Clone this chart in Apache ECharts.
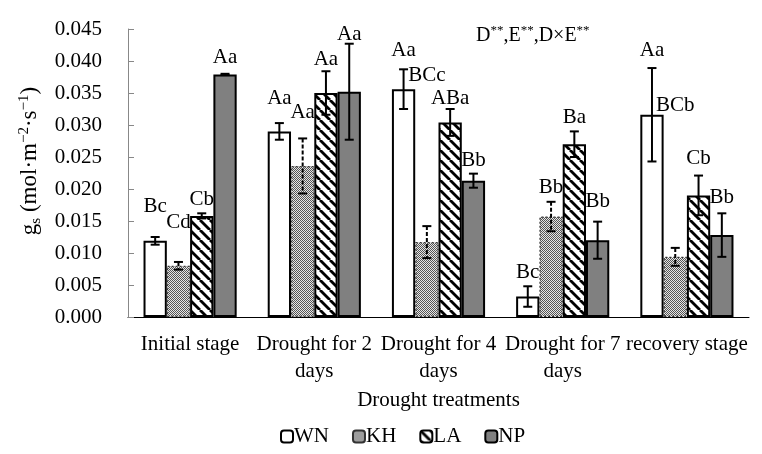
<!DOCTYPE html>
<html lang="en">
<head>
    <meta charset="UTF-8">
    <title>gs</title>
    <script src="https://cdn.jsdelivr.net/npm/echarts@6/dist/echarts.min.js"></script>
    <style>html,body{margin:0;padding:0;background:#fff}</style>
</head>
<body>
<div style="width:762px;height:454px" id="main"></div>
<script>
    var categories = ['Initial stage', 'Drought for 2\ndays', 'Drought for 4\ndays', 'Drought for 7\ndays', 'recovery stage'];
    var names = ['WN', 'KH', 'LA', 'NP'];

    var WN = [0.0119, 0.0290, 0.0356, 0.0032, 0.0316];
    var KH = [0.0080, 0.0236, 0.0117, 0.0157, 0.0094];
    var LA = [0.0158, 0.0350, 0.0304, 0.0270, 0.0190];
    var NP = [0.0379, 0.0352, 0.0213, 0.0120, 0.0128];

    var WNerr = [0.0006, 0.0013, 0.0031, 0.0016, 0.0073];
    var KHerr = [0.0006, 0.0043, 0.0025, 0.0023, 0.0014];
    var LAerr = [0.0004, 0.0034, 0.0021, 0.0020, 0.0031];
    var NPerr = [0.0001, 0.0075, 0.0011, 0.0029, 0.0034];

    // significance letters and the height (in y units) they sit at
    var WNsig = ['Bc', 'Aa', 'Aa', 'Bc', 'Aa'];
    var KHsig = ['Cd', 'Aa', 'BCc', 'Bb', 'BCb'];
    var LAsig = ['Cb', 'Aa', 'ABa', 'Ba', 'Cb'];
    var NPsig = ['Aa', 'Aa', 'Bb', 'Bb', 'Bb'];
    var WNsigAt = [0.0172, 0.0342, 0.0416, 0.0069, 0.0416];
    var KHsigAt = [0.0148, 0.0319, 0.0377, 0.0203, 0.0330];
    var LAsigAt = [0.0184, 0.0403, 0.0341, 0.0312, 0.0248];
    var NPsigAt = [0.0406, 0.0442, 0.0244, 0.0180, 0.0186];

    var values = [WN, KH, LA, NP];
    var errs = [WNerr, KHerr, LAerr, NPerr];
    var sigs = [WNsig, KHsig, LAsig, NPsig];
    var sigAt = [WNsigAt, KHsigAt, LAsigAt, NPsigAt];

    var font = '"Liberation Serif", "Times New Roman", serif';

    // patterns
    function checker() {
        var c = document.createElement('canvas');
        c.width = 2; c.height = 2;
        var ctx = c.getContext('2d');
        ctx.fillStyle = '#e6e6e6';
        ctx.fillRect(0, 0, 2, 2);
        ctx.fillStyle = '#555';
        ctx.fillRect(0, 0, 1, 1);
        ctx.fillRect(1, 1, 1, 1);
        return c;
    }
    function stripes() {
        var p = 10;
        var c = document.createElement('canvas');
        c.width = p; c.height = p;
        var ctx = c.getContext('2d');
        ctx.fillStyle = '#fff';
        ctx.fillRect(0, 0, p, p);
        ctx.strokeStyle = '#000';
        ctx.lineWidth = 2.8;
        for (var k = -1; k <= 1; k++) {
            ctx.beginPath();
            ctx.moveTo(k * p, 0);
            ctx.lineTo(k * p + p, p);
            ctx.stroke();
        }
        return c;
    }

    var styles = [
        {color: '#fff', borderColor: '#000', borderWidth: 2},
        {color: {image: checker(), repeat: 'repeat'}, borderColor: '#333', borderWidth: 1.2, borderType: [2, 2]},
        {color: {image: stripes(), repeat: 'repeat'}, borderColor: '#000', borderWidth: 2},
        {color: '#808080', borderColor: '#000', borderWidth: 2}
    ];

    var myChart = echarts.init(document.getElementById('main'));

    var series = [];
    for (var s = 0; s < 4; s++) {
        series.push({
            name: names[s],
            type: 'bar',
            data: values[s],
            barGap: '0%',
            barCategoryGap: '25%',
            itemStyle: styles[s],
            z: 2
        });
    }

    var errData = [];
    var sigData = [];
    for (var s = 0; s < 4; s++) {
        for (var i = 0; i < categories.length; i++) {
            errData.push([i, values[s][i], errs[s][i], s]);
            sigData.push([i, sigAt[s][i], s, sigs[s][i]]);
        }
    }

    function barX(api, i, s) {
        var band = api.size([1, 0])[0];
        var bw = band * 0.75 / 4;
        var c = api.coord([i, 0]);
        return {x: c[0] + (s - 1.5) * bw, bw: bw};
    }

    series.push({
        type: 'custom',
        z: 5,
        silent: true,
        data: errData,
        renderItem: function (params, api) {
            var i = api.value(0), v = api.value(1), e = api.value(2), s = api.value(3);
            var bx = barX(api, i, s);
            var top = api.coord([i, v + e])[1];
            var bot = api.coord([i, v - e])[1];
            var cap = 4.5;
            var st = {stroke: '#000', lineWidth: 2};
            if (s === 1) st.lineDash = [4, 2];
            return {
                type: 'group',
                children: [
                    {type: 'line', shape: {x1: bx.x, y1: top, x2: bx.x, y2: bot}, style: st},
                    {type: 'line', shape: {x1: bx.x - cap, y1: top, x2: bx.x + cap, y2: top}, style: {stroke: '#000', lineWidth: 2}},
                    {type: 'line', shape: {x1: bx.x - cap, y1: bot, x2: bx.x + cap, y2: bot}, style: {stroke: '#000', lineWidth: 2}}
                ]
            };
        }
    });

    series.push({
        type: 'custom',
        z: 6,
        silent: true,
        clip: false,
        data: sigData,
        renderItem: function (params, api) {
            var i = api.value(0), y = api.value(1), s = api.value(2);
            var txt = sigData[params.dataIndex][3];
            var bx = barX(api, i, s);
            return {
                type: 'text',
                x: bx.x,
                y: api.coord([i, y])[1],
                style: {
                    text: txt,
                    font: '21px ' + font,
                    fill: '#000',
                    align: 'center',
                    verticalAlign: 'middle'
                }
            };
        }
    });

    var option = {
        animation: false,
        backgroundColor: '#fff',
        grid: {left: 128, right: 13, top: 29, bottom: 137},
        legend: {
            data: names,
            left: 275,
            top: 421,
            itemWidth: 12,
            itemHeight: 12,
            itemGap: 23,
            textStyle: {fontFamily: font, fontSize: 21, color: '#000', padding: [0, 0, 0, -4]}
        },
        xAxis: {
            type: 'category',
            data: categories,
            name: 'Drought treatments',
            nameLocation: 'middle',
            nameGap: 71,
            nameTextStyle: {fontFamily: font, fontSize: 21, color: '#000'},
            axisLine: {lineStyle: {color: '#000', width: 1}},
            axisTick: {inside: true, length: 5, lineStyle: {color: '#888'}},
            axisLabel: {fontFamily: font, fontSize: 21, color: '#000', lineHeight: 27, margin: 14, interval: 0}
        },
        yAxis: {
            type: 'value',
            min: 0,
            max: 0.045,
            interval: 0.005,
            splitLine: {show: false},
            axisLine: {show: true, lineStyle: {color: '#888', width: 1}},
            axisTick: {show: true, inside: true, length: 6, lineStyle: {color: '#888'}},
            axisLabel: {
                fontFamily: font, fontSize: 21, color: '#000', margin: 26,
                formatter: function (v) { return v.toFixed(3); }
            },
            name: '{t|g}{sub|s}{t| (mol·m}{sup|−2}{t|·s}{sup|−1}{t|)}',
            nameLocation: 'middle',
            nameGap: 80,
            nameTextStyle: {
                padding: [0, 0, 0, 24],
                rich: {
                    t: {fontFamily: font, fontSize: 23, color: '#000', lineHeight: 27},
                    sub: {fontFamily: font, fontSize: 15, color: '#000', lineHeight: 15, verticalAlign: 'bottom'},
                    sup: {fontFamily: font, fontSize: 15, color: '#000', lineHeight: 15, verticalAlign: 'top'}
                }
            }
        },
        graphic: [{
            type: 'text',
            left: 476,
            top: 24,
            style: {
                text: '{t|D}{sup|**}{t|,E}{sup|**}{t|,D×E}{sup|**}',
                rich: {
                    t: {fontFamily: font, fontSize: 20, fill: '#000', lineHeight: 24},
                    sup: {fontFamily: font, fontSize: 13, fill: '#000', lineHeight: 13, verticalAlign: 'top'}
                }
            }
        }],
        series: series
    };

    myChart.setOption(option);
</script>
</body>
</html>
